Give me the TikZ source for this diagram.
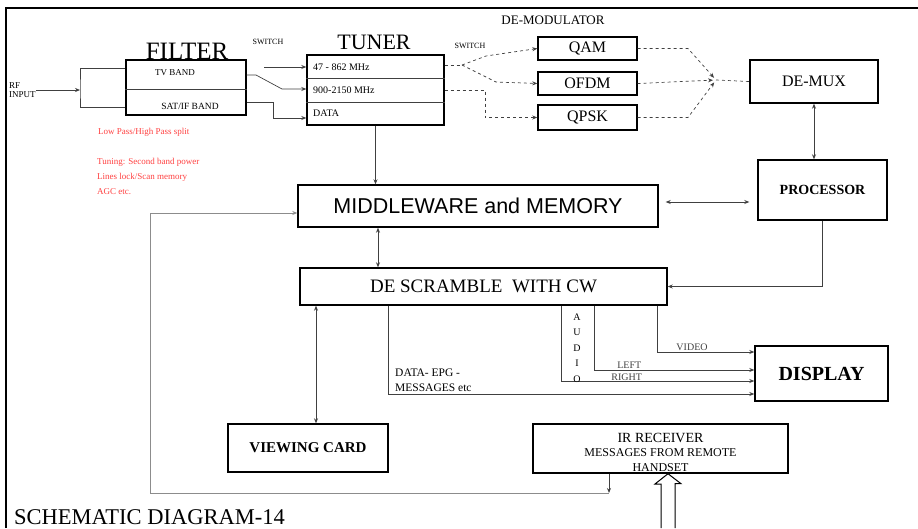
\documentclass[tikz,border=0pt]{standalone}
\usepackage{fontspec}
\setmainfont{Liberation Serif}
\newfontfamily\sansfont{Liberation Sans}
\usetikzlibrary{arrows.meta}
\newcommand{\fs}[1]{\fontsize{#1}{#1}\selectfont}
\begin{document}
\begin{tikzpicture}[x=1pt, y=-1pt, >={Stealth[length=5pt,width=4pt]},
  blk/.style={draw, line width=1.4pt, inner sep=0pt, align=center},
  wire/.style={black!75, line width=0.7pt},
  sw/.style={wire, dashed},
  lbl/.style={inner sep=1pt, font=\fs{10}},
  note/.style={anchor=west, inner sep=0pt, text=red!75!white, align=left}]
  \useasboundingbox (0,0) rectangle (918,528);
  \draw[line width=2pt] (6,528) -- (6,7.5) -- (918,7.5);
  % front end
  \node[blk, minimum width=120, minimum height=55] (filter) at (186,87.5) {};
  \node[anchor=base, inner sep=0, font=\fs{25}] (filtert) at (187,59) {FILTER};
  \draw[wire] (filter.west |- 0,89) -- (filter.east |- 0,89);
  \node[lbl, font=\fs{9}] (tvband) at (175,73) {TV BAND};
  \node[lbl, font=\fs{9.5}] (satband) at (190,106) {SAT/IF BAND};
  \node[anchor=west, align=left, inner sep=0, font=\fs{9}] (rf) at (9,90) {RF\\INPUT};
  \coordinate (split) at (80,90);
  \draw[wire,->] (rf.east) -- (split);
  \draw[wire] (filter.west |- 0,68) -| (split) |- (filter.west |- 0,107);
  \node[blk, minimum width=137, minimum height=70] (tuner) at (375.5,90) {};
  \node[anchor=base, inner sep=0, font=\fs{22}] (tunert) at (374,49) {TUNER};
  \draw[wire] (tuner.west |- 0,78) -- (tuner.east |- 0,78);
  \draw[wire] (tuner.west |- 0,102) -- (tuner.east |- 0,102);
  \node[lbl, anchor=west] (band1) at (312,67) {47 - 862 MHz};
  \node[lbl, anchor=west] (band2) at (312,90) {900-2150 MHz};
  \node[lbl, anchor=west] (data) at (312,113) {DATA};
  \node[lbl, font=\fs{8}] (sw1) at (268,42) {SWITCH};
  \coordinate (fsw) at (256,75);
  \draw[wire,->] (filter.east |- 0,75) -- (fsw) -- (282,89) -- (tuner.west |- 0,89);
  \draw[wire,->] (264,67) -- (tuner.west |- 0,67);
  \draw[wire,->] (filter.east |- 0,102) -| (273,118) -- (tuner.west |- 0,118);
  \node[note, font=\fs{9}] (n1) at (98,132) {Low Pass/High Pass split};
  \node[note, font=\fontsize{9}{15}\selectfont] (n2) at (97,176) {Tuning: Second band power\\Lines lock/Scan memory\\AGC etc.};
  % demodulators
  \node[font=\fs{13}] (demodt) at (553,20) {DE-MODULATOR};
  \node[blk, minimum width=99, minimum height=23, font=\fs{16}] (qam) at (587.5,48.5) {QAM};
  \node[blk, minimum width=99, minimum height=23, font=\fs{16}] (ofdm) at (587.5,83.5) {OFDM};
  \node[blk, minimum width=99, minimum height=25, font=\fs{16}] (qpsk) at (587.5,117.5) {QPSK};
  \node[lbl, font=\fs{8}] (sw2) at (470,46) {SWITCH};
  \coordinate (tsw) at (462,65);
  \draw[sw] (tuner.east |- 0,65) -- (tsw);
  \draw[sw,->] (tsw) -- (486,56) -- (qam.west);
  \draw[sw,->] (tsw) -- (496,82) -- (ofdm.west);
  \draw[sw,->] (tuner.east |- 0,90) -- (485,90) |- (qpsk.west);
  \node[blk, minimum width=128, minimum height=43, font=\fs{16}] (demux) at (814,81.5) {DE-MUX};
  \coordinate (msw) at (716,80);
  \draw[sw,->,shorten >=3pt] (qam.east) -- (688,48.5) -- (msw);
  \draw[sw,->,shorten >=3pt] (ofdm.east) -- (msw);
  \draw[sw,->,shorten >=3pt] (qpsk.east) -- (688,117.5) -- (msw);
  \draw[sw] (msw) -- (demux.west);
  % processing
  \node[blk, minimum width=129, minimum height=60, font=\bfseries\fs{14}] (proc) at (822.5,190) {PROCESSOR};
  \draw[wire,<->] (demux.south) -- (demux.south |- proc.north);
  \node[blk, minimum width=360, minimum height=42, font=\sansfont\fs{21.5}] (mw) at (478,206) {MIDDLEWARE and MEMORY};
  \draw[wire,<->,shorten <=7pt,shorten >=8pt] (mw.east |- 0,202) -- (proc.west |- 0,202);
  \draw[wire,->] (tuner.south) -- (tuner.south |- mw.north);
  \node[blk, minimum width=367, minimum height=37, font=\fs{19}] (ds) at (483.5,286.5) {DE SCRAMBLE\ \ WITH CW};
  \draw[wire,<->] (mw.south -| 378,0) -- (ds.north -| 378,0);
  \draw[wire,->] (proc.south) |- (ds.east);
  % outputs
  \node[blk, minimum width=133, minimum height=55, font=\bfseries\fs{20}] (disp) at (821.5,373.5) {DISPLAY};
  \draw[wire,->] (ds.south -| 657,0) |- (disp.west |- 0,352) node[lbl, pos=0.68, above] {VIDEO};
  \draw[wire,->] (ds.south -| 594,0) |- (disp.west |- 0,370) node[lbl, pos=0.61, above] {LEFT};
  \draw[wire,->] (ds.south -| 561,0) |- (disp.west |- 0,381) node[lbl, pos=0.67, above, inner sep=0] {RIGHT};
  \node[align=center, inner sep=0, font=\fontsize{10}{15.5}\selectfont] (audio) at (577,348) {A\\U\\D\\I\\O};
  \draw[wire,->] (ds.south -| 388,0) |- (disp.west |- 0,394);
  \node[lbl, anchor=south west, align=left, font=\fontsize{11.5}{15}\selectfont] (datal) at (394,393) {DATA- EPG -\\MESSAGES etc};
  \node[blk, minimum width=160, minimum height=48, font=\bfseries\fs{15}] (vc) at (308,448) {VIEWING CARD};
  \draw[wire,<->] ([xshift=8pt]vc.north) -- ([xshift=8pt]vc.north |- ds.south);
  \node[blk, minimum width=255, minimum height=49] (ir) at (660.5,448.5) {};
  \node[align=center, inner sep=0, font=\fontsize{12}{14.5}\selectfont] (irtext) at (660.5,452) {{\fs{14}IR RECEIVER}\\MESSAGES FROM REMOTE\\HANDSET};
  \coordinate (ret) at (609,493);
  \draw[wire,->,line width=1pt] (ir.south -| ret) -- (ret);
  \draw[wire,->,black!45] (ret) -- (150,493) |- ([yshift=-7pt]mw.west);
  \coordinate (hand) at (668,528);
  \draw[line width=1pt, fill=white] ([xshift=-7pt]hand) -- ++(0,-44) -- ++(-6,0) -- (ir.south -| hand) -- ++(13,10) -- ++(-6,0) -- ([xshift=7pt]hand);
  \node[anchor=base west, inner sep=0, font=\fs{22.5}] (cap) at (14,524) {SCHEMATIC DIAGRAM-14};
\end{tikzpicture}
\end{document}
